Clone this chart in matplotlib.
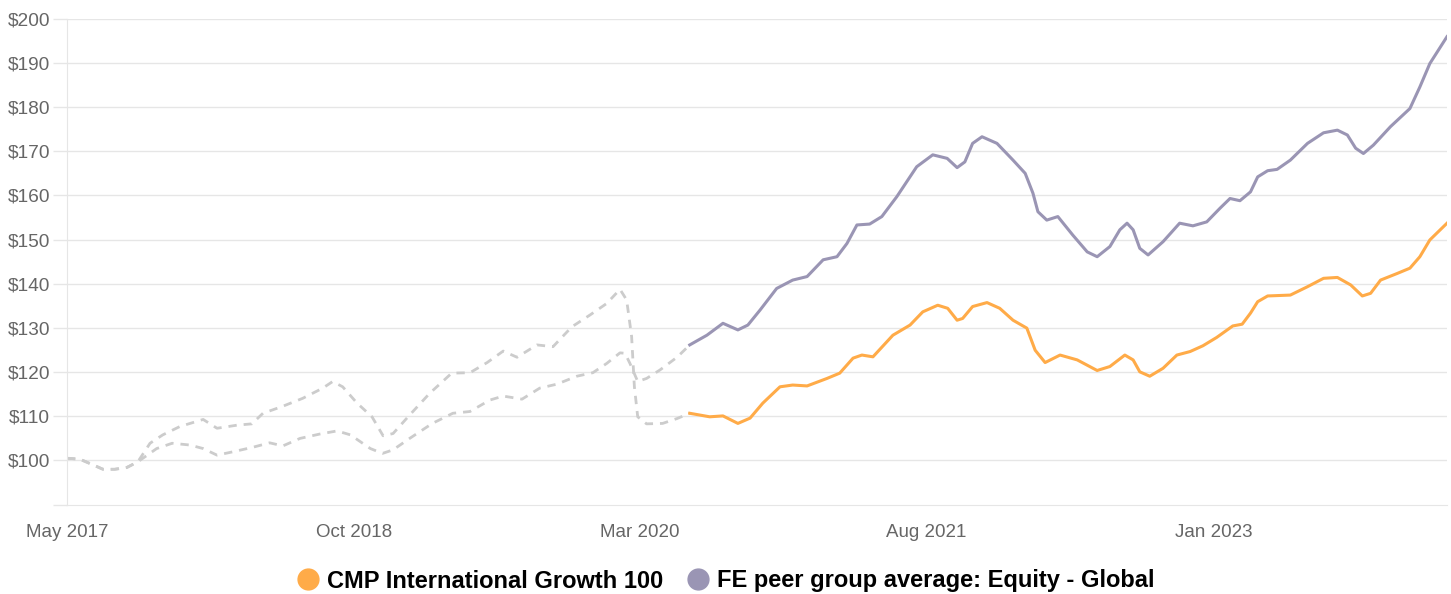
import matplotlib
matplotlib.use("Agg")
import matplotlib.pyplot as plt
from matplotlib.lines import Line2D
import pandas as pd

plt.rcParams['font.family'] = ['Liberation Sans', 'DejaVu Sans']

# fund: dashed history until end of May 2020, then solid
fund_hist_dates = ['2017-05-01', '2017-05-24', '2017-06-17', '2017-07-05', '2017-07-26', '2017-08-17',
                   '2017-09-06', '2017-09-28', '2017-10-21', '2017-11-21', '2018-01-02', '2018-01-27',
                   '2018-03-04', '2018-03-31', '2018-04-20', '2018-05-24', '2018-07-01', '2018-08-06',
                   '2018-08-24', '2018-09-11', '2018-10-07', '2018-11-03', '2018-11-23', '2018-12-11',
                   '2019-01-10', '2019-02-15', '2019-03-27', '2019-04-29', '2019-05-30', '2019-06-28',
                   '2019-07-23', '2019-08-28', '2019-09-26', '2019-10-30', '2019-12-02', '2020-01-01',
                   '2020-01-25', '2020-02-06', '2020-02-15', '2020-02-20', '2020-02-26', '2020-03-13',
                   '2020-04-11', '2020-05-07', '2020-05-30']
fund_hist = [100.4, 100.2, 98.9, 97.9, 97.9, 98.3,
             99.6, 103.8, 105.7, 107.6, 109.2, 107.2,
             107.9, 108.2, 110.6, 112.1, 114.0, 116.3,
             117.8, 116.6, 112.9, 109.8, 105.5, 106.0,
             110.2, 115.1, 119.7, 119.8, 122.1, 124.7,
             123.3, 126.1, 125.7, 130.2, 132.9, 135.5,
             138.7, 136.3, 128.0, 116.6, 109.8, 108.2,
             108.3, 109.4, 110.6]

fund_dates = ['2020-05-30', '2020-07-05', '2020-07-29', '2020-08-25', '2020-09-16', '2020-10-09',
              '2020-11-09', '2020-12-02', '2020-12-28', '2021-02-02', '2021-02-25', '2021-03-21',
              '2021-04-06', '2021-04-26', '2021-06-01', '2021-07-02', '2021-07-25', '2021-08-21',
              '2021-09-08', '2021-09-25', '2021-10-05', '2021-10-23', '2021-11-18', '2021-12-11',
              '2022-01-04', '2022-01-29', '2022-02-13', '2022-03-03', '2022-03-30', '2022-04-30',
              '2022-06-05', '2022-06-28', '2022-07-25', '2022-08-09', '2022-08-21', '2022-09-08',
              '2022-10-02', '2022-10-27', '2022-11-20', '2022-12-13', '2023-01-07', '2023-02-05',
              '2023-02-22', '2023-03-09', '2023-03-22', '2023-04-09', '2023-05-20', '2023-06-20',
              '2023-07-19', '2023-08-13', '2023-09-06', '2023-09-27', '2023-10-12', '2023-10-30',
              '2023-11-29', '2023-12-22', '2024-01-09', '2024-01-27', '2024-02-27']
fund = [110.6, 109.8, 110.0, 108.3, 109.5, 112.9,
        116.6, 117.0, 116.8, 118.5, 119.7, 123.1,
        123.8, 123.4, 128.3, 130.6, 133.6, 135.1,
        134.4, 131.7, 132.1, 134.8, 135.7, 134.4,
        131.7, 129.9, 124.9, 122.1, 123.8, 122.7,
        120.3, 121.2, 123.8, 122.7, 120.0, 119.0,
        120.8, 123.8, 124.6, 125.9, 127.8, 130.4,
        130.8, 133.3, 135.9, 137.2, 137.4, 139.3,
        141.2, 141.4, 139.7, 137.2, 137.8, 140.8,
        142.3, 143.5, 146.1, 149.9, 153.7]

# peer group average
peer_hist_dates = ['2017-05-01', '2017-05-24', '2017-06-17', '2017-07-05', '2017-07-26', '2017-08-17',
                   '2017-09-06', '2017-10-10', '2017-11-07', '2017-12-09', '2018-01-02', '2018-01-27',
                   '2018-02-26', '2018-04-02', '2018-05-02', '2018-05-26', '2018-06-26', '2018-08-01',
                   '2018-09-01', '2018-09-25', '2018-10-31', '2018-11-22', '2018-12-11', '2019-01-10',
                   '2019-02-20', '2019-03-29', '2019-04-29', '2019-06-04', '2019-06-28', '2019-08-01',
                   '2019-09-02', '2019-10-03', '2019-11-08', '2019-12-07', '2020-01-01', '2020-01-25',
                   '2020-02-03', '2020-02-12', '2020-02-26', '2020-03-13', '2020-04-06', '2020-05-07',
                   '2020-05-30']
peer_hist = [100.4, 100.2, 98.9, 97.9, 97.9, 98.3,
             99.6, 102.6, 103.8, 103.4, 102.6, 101.1,
             101.9, 102.9, 103.9, 103.2, 104.9, 105.9,
             106.6, 105.7, 102.6, 101.5, 102.3, 104.9,
             108.3, 110.6, 111.0, 113.6, 114.5, 113.8,
             116.3, 117.2, 119.0, 119.8, 121.9, 124.3,
             124.2, 121.9, 117.8, 118.5, 120.4, 123.3,
             126.1]

peer_dates = ['2020-05-30', '2020-06-30', '2020-07-29', '2020-08-25', '2020-09-12', '2020-10-04',
              '2020-11-03', '2020-12-02', '2020-12-28', '2021-01-26', '2021-02-20', '2021-03-10',
              '2021-03-28', '2021-04-20', '2021-05-12', '2021-06-08', '2021-07-14', '2021-08-12',
              '2021-09-07', '2021-09-25', '2021-10-09', '2021-10-23', '2021-11-09', '2021-12-06',
              '2022-01-04', '2022-01-26', '2022-02-09', '2022-02-18', '2022-03-06', '2022-03-26',
              '2022-04-22', '2022-05-18', '2022-06-05', '2022-06-28', '2022-07-16', '2022-07-29',
              '2022-08-09', '2022-08-21', '2022-09-05', '2022-10-02', '2022-11-01', '2022-11-25',
              '2022-12-20', '2023-01-13', '2023-01-31', '2023-02-18', '2023-03-09', '2023-03-22',
              '2023-04-09', '2023-04-26', '2023-05-20', '2023-06-20', '2023-07-19', '2023-08-13',
              '2023-08-31', '2023-09-15', '2023-09-29', '2023-10-17', '2023-11-17', '2023-12-22',
              '2024-01-09', '2024-01-27', '2024-02-27']
peer = [126.1, 128.3, 131.0, 129.5, 130.6, 134.0,
        138.9, 140.8, 141.6, 145.4, 146.1, 149.1,
        153.3, 153.5, 155.2, 159.7, 166.5, 169.2,
        168.4, 166.3, 167.6, 171.8, 173.3, 171.8,
        168.0, 165.0, 160.5, 156.3, 154.4, 155.2,
        151.0, 147.2, 146.1, 148.4, 152.2, 153.7,
        152.2, 148.0, 146.5, 149.5, 153.7, 153.1,
        154.0, 157.1, 159.3, 158.8, 160.8, 164.2,
        165.6, 165.9, 168.0, 171.8, 174.2, 174.8,
        173.7, 170.7, 169.5, 171.4, 175.6, 179.7,
        184.6, 189.9, 196.0]

tick_dates = ['2017-05-01', '2018-10-01', '2020-03-01', '2021-08-01', '2023-01-01']
tick_labels = ['May 2017', 'Oct 2018', 'Mar 2020', 'Aug 2021', 'Jan 2023']
y_ticks = [100, 110, 120, 130, 140, 150, 160, 170, 180, 190, 200]

names = ['CMP International Growth 100', 'FE peer group average: Equity - Global']
c_fund = '#ffab48'
c_peer = '#9a95b4'
c_hist = '#cccccc'
c_grid = '#e6e6e6'

fig = plt.figure(figsize=(14.51, 5.94), dpi=100)
ax = fig.add_axes([67 / 1451, 1 - 505 / 594, 1380 / 1451, 486 / 594])

td = pd.to_datetime
# gray dashed history for both series, then the coloured part
ax.plot(td(fund_hist_dates), fund_hist, color=c_hist, lw=2.0, ls=(0, (3, 2.5)), zorder=2)
ax.plot(td(peer_hist_dates), peer_hist, color=c_hist, lw=2.0, ls=(0, (3, 2.5)), zorder=2)
ax.plot(td(fund_dates), fund, color=c_fund, lw=2.2, solid_joinstyle='round', zorder=3)
ax.plot(td(peer_dates), peer, color=c_peer, lw=2.2, solid_joinstyle='round', zorder=3)

ax.set_xlim(td('2017-05-01'), td('2024-02-27'))
ax.set_ylim(89.8, 200)
ax.set_yticks(y_ticks)
ax.set_yticklabels(['$%d' % v for v in y_ticks])
ax.set_yticks([89.8], minor=True)
ax.set_xticks(td(tick_dates))
ax.set_xticklabels(tick_labels)

ax.grid(axis='y', color=c_grid, lw=1)
ax.set_axisbelow(True)
for s in ['top', 'right']:
    ax.spines[s].set_visible(False)
ax.spines['left'].set_color(c_grid)
ax.spines['bottom'].set_color(c_grid)
ax.tick_params(axis='y', which='both', length=10, width=1, color=c_grid,
               labelsize=13.8, labelcolor='#666666', pad=2)
ax.tick_params(axis='x', length=0, labelsize=13.5, labelcolor='#666666', pad=14)

handles = [Line2D([], [], marker='o', ls='none', ms=15, color=c_fund),
           Line2D([], [], marker='o', ls='none', ms=15, color=c_peer)]
fig.legend(handles, names, loc='center', bbox_to_anchor=(0.5, 1 - 581 / 594), ncol=2,
           frameon=False, prop={'size': 17, 'weight': 'bold'},
           handletextpad=0.3, columnspacing=1.0, handlelength=1.0)

fig.savefig('out.png', dpi=100)
